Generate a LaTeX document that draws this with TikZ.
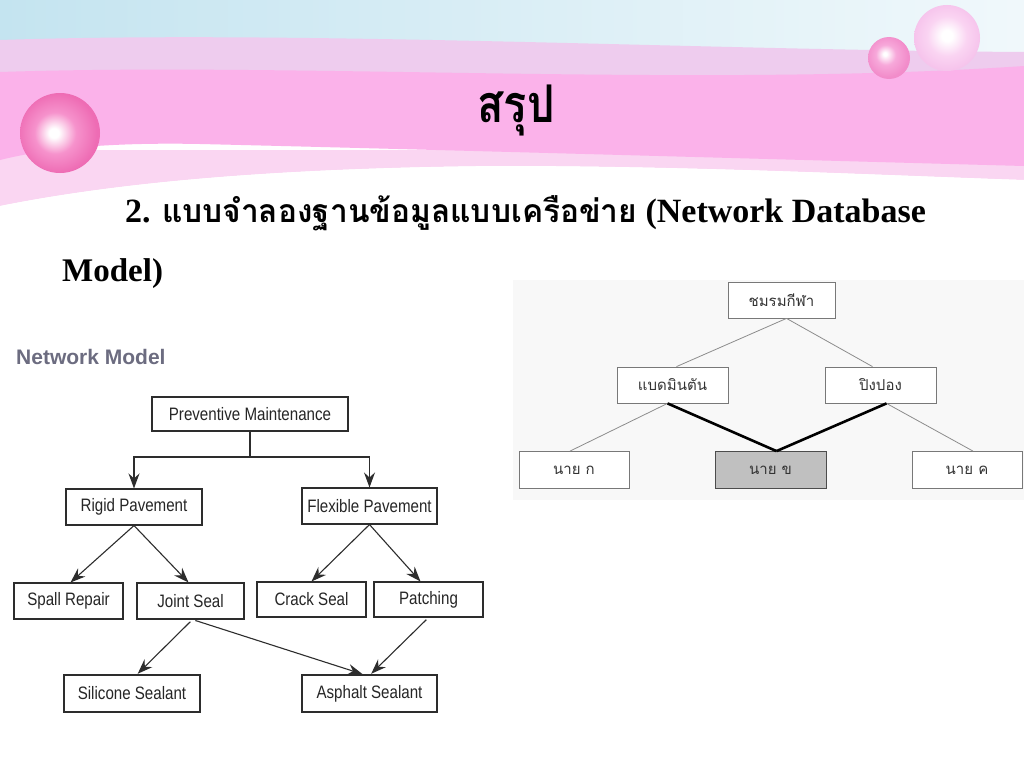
\documentclass[tikz,border=0pt]{standalone}
\usepackage{fontspec}
\usepackage{graphicx}
\setmainfont{Liberation Serif}
\newfontfamily\thai[Script=Thai]{Loma}
\newfontfamily\lsans{Liberation Sans}
\usetikzlibrary{arrows.meta}
\definecolor{bgblue}{RGB}{196,228,240}
\definecolor{pinkmain}{RGB}{251,178,234}
\definecolor{pinkup}{RGB}{238,204,238}
\definecolor{pinklow}{RGB}{250,214,242}
\definecolor{ballA}{RGB}{246,146,204}
\definecolor{ballB}{RGB}{238,108,180}
\definecolor{ballC}{RGB}{247,168,218}
\definecolor{ballD}{RGB}{242,140,202}
\definecolor{ballE}{RGB}{250,212,242}
\definecolor{ballF}{RGB}{246,196,236}
\definecolor{headgray}{RGB}{108,108,128}
\definecolor{lineD}{RGB}{45,45,45}
\definecolor{lineG}{RGB}{140,140,140}
\definecolor{boxG}{RGB}{120,120,120}
\definecolor{fillB}{RGB}{192,192,192}
\definecolor{panel}{RGB}{248,248,248}
\pgfdeclareradialshading{bigball}{\pgfpoint{-4bp}{0bp}}{color(0bp)=(white); color(3bp)=(white); color(13bp)=(ballA); color(25bp)=(ballB); color(50bp)=(ballB)}
\pgfdeclareradialshading{smallball}{\pgfpoint{-5bp}{5bp}}{color(0bp)=(white); color(2bp)=(white); color(12bp)=(ballC); color(25bp)=(ballD); color(50bp)=(ballD)}
\pgfdeclareradialshading{faintball}{\pgfpoint{0bp}{2bp}}{color(0bp)=(white); color(4bp)=(white); color(15bp)=(ballE); color(25bp)=(ballF); color(50bp)=(ballF)}
\newcommand\nx[1]{\scalebox{0.84}[1]{#1}}
\tikzset{
  lbox/.style={draw=lineD, line width=1.1pt, fill=white, inner sep=0pt,
    font=\lsans\fontsize{18}{18}\selectfont, text=black!85},
  tbox/.style={draw=boxG, line width=0.8pt, fill=white, inner sep=0pt,
    font=\thai\fontsize{15}{15}\selectfont, text=black!80},
  arr/.style={draw=lineD, line width=1.1pt, -{Stealth[length=15pt,width=11pt,inset=5pt]}},
  thin/.style={draw=lineG, line width=0.8pt},
  thick/.style={draw=black, line width=2.6pt}
}
\begin{document}
\begin{tikzpicture}[x=1pt,y=-1pt]
\useasboundingbox (0,0) rectangle (1024,768);
\fill[white] (0,0) rectangle (1024,768);
% top background
\shade[left color=bgblue, middle color=bgblue!55, right color=bgblue!25] (0,0) rectangle (1024,110);
% bands
\fill[pinkup] (0,40) .. controls (300,30) and (700,50) .. (1024,52) -- (1024,75) .. controls (700,85) and (300,72) .. (0,80) -- cycle;
\fill[pinklow] (0,150) -- (0,206) .. controls (100,186) and (250,168) .. (500,166) .. controls (700,166) and (900,176) .. (1024,180) -- (1024,150) -- cycle;
\fill[white] (0,768) -- (0,206) .. controls (100,186) and (250,168) .. (500,166) .. controls (700,166) and (900,176) .. (1024,180) -- (1024,768) -- cycle;
\fill[pinkmain] (0,72) .. controls (300,62) and (700,88) .. (1024,66) -- (1024,166) .. controls (800,160) and (450,150) .. (200,144) .. controls (100,142) and (40,150) .. (0,160) -- cycle;
% balls
\shade[shading=faintball] (947,38) circle[radius=33];
\shade[shading=smallball] (889,58) circle[radius=21];
\shade[shading=bigball] (60,133) circle[radius=40];
% titles
\node[anchor=base, inner sep=0pt] (title) at (516,122)
  {\resizebox{77pt}{\height}{\thai\bfseries\fontsize{52}{52}\selectfont สรุป}};
\node[anchor=base west, inner sep=0pt] (line1) at (125,222)
  {\fontsize{34}{34}\selectfont\bfseries 2. \resizebox{475pt}{\height}{\thai\bfseries\fontsize{32}{32}\selectfont แบบจำลองฐานข้อมูลแบบเครือข่าย} (Network Database};
\node[anchor=base west, inner sep=0pt] (line2) at (62,281)
  {\fontsize{33}{33}\selectfont\bfseries Model)};
% left diagram
\node[anchor=base west, inner sep=0pt, text=headgray] (head) at (16,364)
  {\lsans\bfseries\fontsize{21}{21}\selectfont Network Model};
\node[lbox, minimum width=196pt, minimum height=34pt] (pm) at (250,414) {\nx{Preventive Maintenance}};
\node[lbox, minimum width=136pt, minimum height=36pt] (rigid) at (134,507) {\nx{Rigid Pavement}};
\node[lbox, minimum width=135pt, minimum height=36pt] (flex) at (369.5,506) {\nx{Flexible Pavement}};
\node[lbox, minimum width=109pt, minimum height=36pt] (spall) at (68.5,601) {\nx{Spall Repair}};
\node[lbox, minimum width=107pt, minimum height=36pt] (joint) at (190.5,601) {\nx{Joint Seal}};
\node[lbox, minimum width=109pt, minimum height=35pt] (crack) at (311.5,599.5) {\nx{Crack Seal}};
\node[lbox, minimum width=109pt, minimum height=35pt] (patch) at (428.5,599.5) {\nx{Patching}};
\node[lbox, minimum width=136pt, minimum height=37pt] (sil) at (132,693.5) {\nx{Silicone Sealant}};
\node[lbox, minimum width=135pt, minimum height=37pt] (asph) at (369.5,693.5) {\nx{Asphalt Sealant}};
\coordinate (j) at (250,457);
\draw[lineD, line width=1.1pt] (pm.south) -- (j);
\draw[arr] (j) -| (rigid.north);
\draw[arr] (j) -| (flex.north);
\draw[arr] (rigid.south) -- ([xshift=2pt]spall.north);
\draw[arr] (rigid.south) -- ([xshift=-2pt]joint.north);
\draw[arr] (flex.south) -- (crack.north);
\draw[arr] (flex.south) -- ([xshift=-8pt]patch.north);
\draw[arr, shorten <=3pt, shorten >=1pt] ([xshift=2pt]joint.south) -- ([xshift=5pt]sil.north);
\draw[arr, shorten <=3pt, shorten >=1pt] ([xshift=2pt]joint.south) -- ([xshift=-6pt]asph.north);
\draw[arr, shorten <=3pt, shorten >=1pt] (patch.south) -- ([xshift=1pt]asph.north);
% right diagram
\fill[panel] (513,280) rectangle (1024,500);
\node[tbox, minimum width=107pt, minimum height=36pt] (club) at (781.5,300) {ชมรมกีฬา};
\node[tbox, minimum width=111pt, minimum height=36pt] (badm) at (672.5,385) {แบดมินตัน};
\node[tbox, minimum width=111pt, minimum height=36pt] (ping) at (880.5,385) {ปิงปอง};
\node[tbox, minimum width=110pt, minimum height=37pt] (nk) at (574,470) {นาย ก};
\node[tbox, minimum width=111pt, minimum height=37pt, fill=fillB, draw=black!70] (nb) at (770.5,470) {นาย ข};
\node[tbox, minimum width=110pt, minimum height=37pt] (nc) at (967,470) {นาย ค};
\draw[thin] ([xshift=5pt]club.south) -- ([xshift=4pt]badm.north);
\draw[thin] ([xshift=5pt]club.south) -- ([xshift=-8pt]ping.north);
\draw[thin] ([xshift=-5pt]badm.south) -- ([xshift=-4pt]nk.north);
\draw[thin] ([xshift=6pt]ping.south) -- ([xshift=6pt]nc.north);
\draw[thick] ([xshift=-5pt]badm.south) -- ([xshift=6pt]nb.north);
\draw[thick] ([xshift=6pt]ping.south) -- ([xshift=6pt]nb.north);
\end{tikzpicture}
\end{document}
